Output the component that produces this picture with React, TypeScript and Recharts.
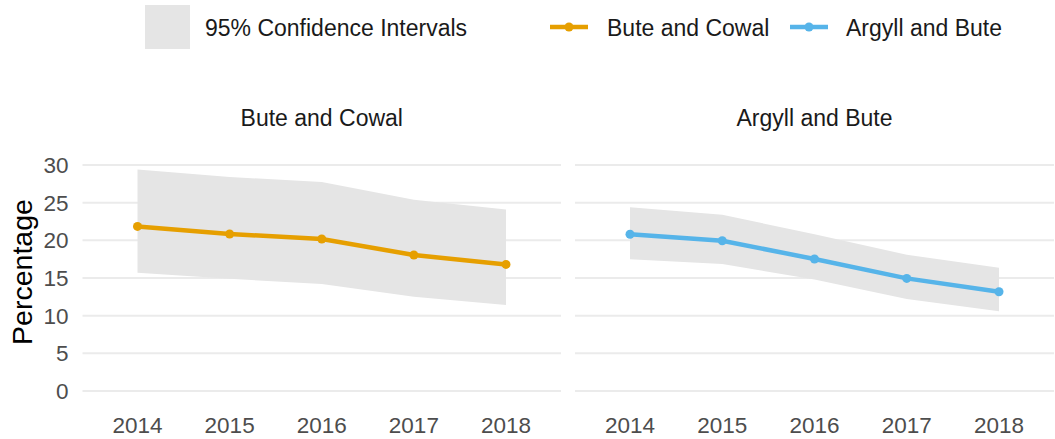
import React from 'react'
import { ComposedChart, Line, Area, XAxis, YAxis, CartesianGrid } from 'recharts'

const years = ['2014', '2015', '2016', '2017', '2018']
const buteCowal = [21.85, 20.84, 20.18, 18.05, 16.8]
const buteCowalLow = [15.7, 14.9, 14.2, 12.5, 11.4]
const buteCowalHigh = [29.4, 28.4, 27.75, 25.4, 24.1]
const argyllBute = [20.8, 19.95, 17.52, 14.95, 13.18]
const argyllButeLow = [17.5, 16.85, 14.8, 12.2, 10.6]
const argyllButeHigh = [24.4, 23.4, 20.8, 18.1, 16.35]
const yTicks = [0, 5, 10, 15, 20, 25, 30]

const FONT = '"Liberation Sans", Arial, sans-serif'
const ORANGE = '#E69F00'
const BLUE = '#56B4E9'
const CI = '#e5e5e5'

const leftData = years.map((year, i) => ({ year, value: buteCowal[i], ci: [buteCowalLow[i], buteCowalHigh[i]] }))
const rightData = years.map((year, i) => ({ year, value: argyllBute[i], ci: [argyllButeLow[i], argyllButeHigh[i]] }))

function Panel({ data, color, showY }: { data: any[]; color: string; showY: boolean }) {
  return (
    <ComposedChart
      width={showY ? 561 : 480}
      height={439}
      data={data}
      margin={{ top: 165, right: showY ? 0 : 1, bottom: 0, left: 0 }}
    >
      <CartesianGrid vertical={false} stroke="#ebebeb" strokeWidth={2} />
      <XAxis
        dataKey="year"
        scale="point"
        padding={{ left: 55, right: 55 }}
        axisLine={false}
        tickLine={false}
        tickMargin={20}
        height={48}
        tick={{ fill: '#4d4d4d', fontSize: 22.5, fontFamily: FONT }}
      />
      <YAxis
        domain={[0, 30]}
        ticks={yTicks}
        hide={!showY}
        width={82.5}
        axisLine={false}
        tickLine={false}
        tickMargin={8}
        interval={0}
        tick={{ fill: '#4d4d4d', fontSize: 22.5, fontFamily: FONT }}
        label={() => (
          <text
            x={22}
            y={272}
            transform="rotate(-90 22 272)"
            textAnchor="middle"
            dominantBaseline="central"
            fontSize={28.5}
            fontFamily={FONT}
            fill="#000"
          >
            Percentage
          </text>
        )}
      />
      <Area dataKey="ci" fill={CI} fillOpacity={1} stroke="none" isAnimationActive={false} />
      <Line
        dataKey="value"
        stroke={color}
        strokeWidth={4.5}
        dot={{ r: 4.5, fill: color, stroke: 'none' }}
        activeDot={false}
        isAnimationActive={false}
      />
    </ComposedChart>
  )
}

function LineKey({ color }: { color: string }) {
  return (
    <svg width={38} height={12} style={{ display: 'block' }}>
      <line x1={0} y1={6} x2={38} y2={6} stroke={color} strokeWidth={4.5} />
      <circle cx={19} cy={6} r={4.5} fill={color} />
    </svg>
  )
}

export default function App() {
  const text = { position: 'absolute' as const, fontFamily: FONT, fontSize: 23, color: '#1a1a1a', whiteSpace: 'nowrap' as const, lineHeight: '23px' }
  return (
    <div style={{ position: 'absolute', left: 0, top: 0, width: 1055, height: 439, background: '#fff', overflow: 'hidden' }}>
      <div style={{ position: 'absolute', left: 145, top: 5, width: 45, height: 44, background: CI }} />
      <div style={{ ...text, left: 205, top: 17 }}>95% Confidence Intervals</div>
      <div style={{ position: 'absolute', left: 550, top: 21 }}><LineKey color={ORANGE} /></div>
      <div style={{ ...text, left: 607, top: 17 }}>Bute and Cowal</div>
      <div style={{ position: 'absolute', left: 790, top: 21 }}><LineKey color={BLUE} /></div>
      <div style={{ ...text, left: 846, top: 17 }}>Argyll and Bute</div>

      <div style={{ ...text, left: 82.5, width: 478.5, textAlign: 'center', top: 107 }}>Bute and Cowal</div>
      <div style={{ ...text, left: 575, width: 479, textAlign: 'center', top: 107 }}>Argyll and Bute</div>

      <div style={{ position: 'absolute', left: 0, top: 0 }}>
        <Panel data={leftData} color={ORANGE} showY={true} />
      </div>
      <div style={{ position: 'absolute', left: 575, top: 0 }}>
        <Panel data={rightData} color={BLUE} showY={false} />
      </div>
    </div>
  )
}
